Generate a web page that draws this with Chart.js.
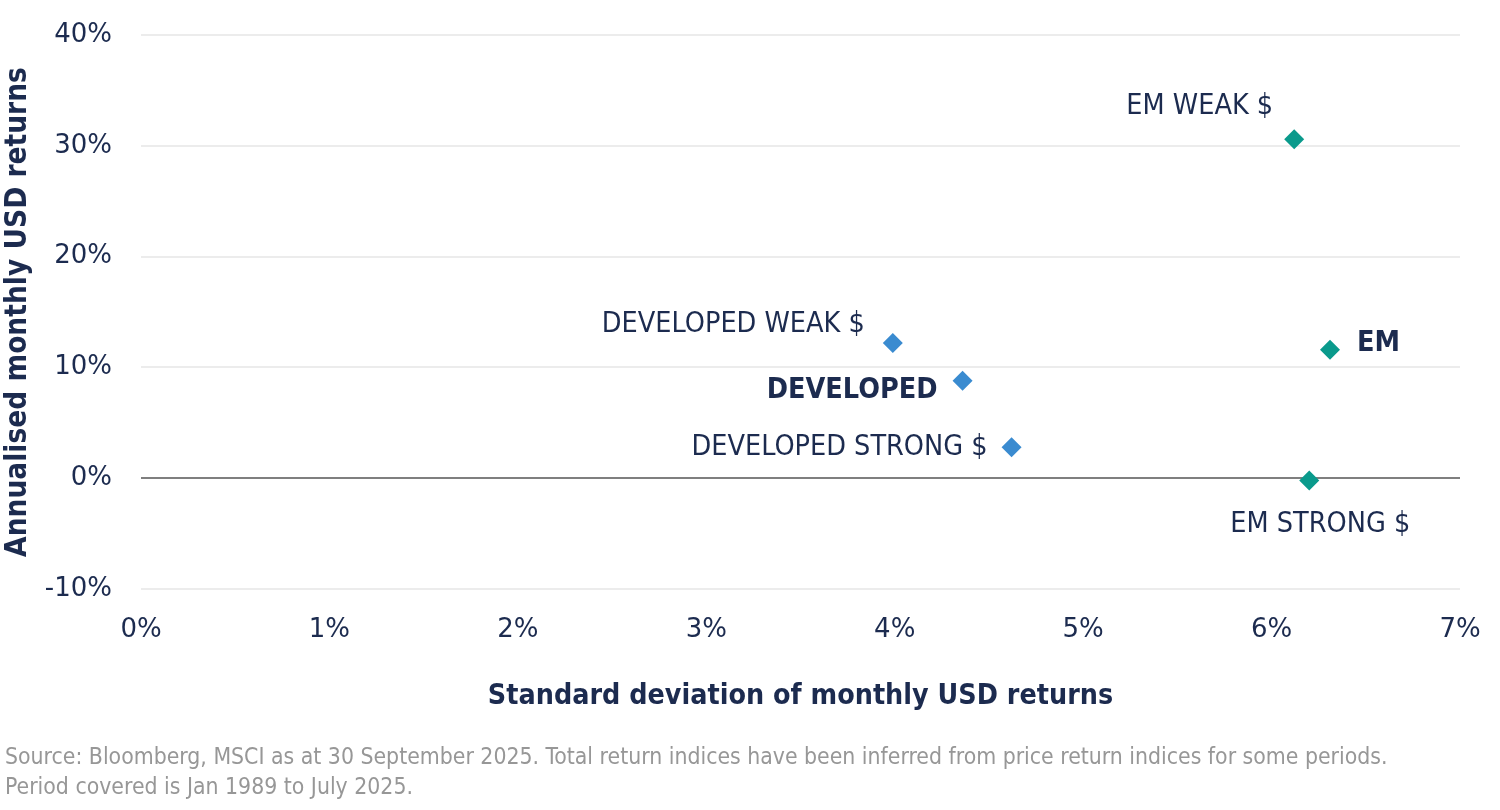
<!DOCTYPE html>
<html lang="en">
<head>
    <meta charset="UTF-8">
    <title>Risk and return by dollar regime</title>
    <script src="https://cdn.jsdelivr.net/npm/chart.js"></script>
    <style>
        html, body { margin: 0; padding: 0; background: #ffffff; }
        .wrap { position: relative; width: 1500px; height: 810px; }
        .source {
            position: absolute; left: 5px; top: 741px;
            font-family: "DejaVu Sans Condensed", "DejaVu Sans", sans-serif;
            font-size: 22.8px; line-height: 30px; color: #979797;
        }
    </style>
</head>
<body>
    <div class="wrap">
        <canvas id="scatter" width="1500" height="810"></canvas>
        <div class="source">
            Source: Bloomberg, MSCI as at 30 September 2025. Total return indices have been inferred from price return indices for some periods.<br>
            Period covered is Jan 1989 to July 2025.
        </div>
    </div>

    <script>
        // data (x = std dev %, y = annualised return %)
        const devNames = ['DEVELOPED WEAK $', 'DEVELOPED', 'DEVELOPED STRONG $'];
        const devRisk = [3.99, 4.36, 4.62];
        const devReturn = [12.2, 8.8, 2.8];

        const emNames = ['EM WEAK $', 'EM', 'EM STRONG $'];
        const emRisk = [6.12, 6.31, 6.20];
        const emReturn = [30.6, 11.6, -0.2];

        const xTicks = [0, 1, 2, 3, 4, 5, 6, 7];
        const yTicks = [-10, 0, 10, 20, 30, 40];

        // label placement next to each point (pixels)
        const devLabelPos = [
            { dx: -28, dy: -18, align: 'right' },
            { dx: -25, dy: 10, align: 'right', bold: true },
            { dx: -24, dy: 0, align: 'right' }
        ];
        const emLabelPos = [
            { dx: -21, dy: -33, align: 'right' },
            { dx: 27, dy: -6, align: 'left', bold: true },
            { dx: 11, dy: 44, align: 'center' }
        ];

        const navy = '#1c2b4f';
        const toPoints = (xs, ys) => xs.map((x, i) => ({ x: x, y: ys[i] }));

        // draw the text labels beside the diamonds
        const pointLabels = {
            id: 'pointLabels',
            afterDatasetsDraw(chart) {
                const ctx = chart.ctx;
                chart.data.datasets.forEach((ds, di) => {
                    const meta = chart.getDatasetMeta(di);
                    meta.data.forEach((pt, i) => {
                        const p = ds.labelPos[i];
                        ctx.save();
                        ctx.font = (p.bold ? 'bold ' : '') + '28.5px "DejaVu Sans Condensed", "DejaVu Sans", sans-serif';
                        ctx.fillStyle = navy;
                        ctx.textAlign = p.align;
                        ctx.textBaseline = 'middle';
                        ctx.fillText(ds.names[i], pt.x + p.dx, pt.y + p.dy);
                        ctx.restore();
                    });
                });
            }
        };

        const tickFont = { family: '"DejaVu Sans", sans-serif', size: 26 };
        const condensed = '"DejaVu Sans Condensed", "DejaVu Sans", sans-serif';

        new Chart(document.getElementById('scatter'), {
            type: 'scatter',
            data: {
                datasets: [
                    {
                        label: 'Developed',
                        data: toPoints(devRisk, devReturn),
                        names: devNames,
                        labelPos: devLabelPos,
                        backgroundColor: '#3a8bd0',
                        borderWidth: 0,
                        pointStyle: 'rectRot',
                        pointRadius: 10,
                        pointHoverRadius: 10
                    },
                    {
                        label: 'EM',
                        data: toPoints(emRisk, emReturn),
                        names: emNames,
                        labelPos: emLabelPos,
                        backgroundColor: '#0a9a8c',
                        borderWidth: 0,
                        pointStyle: 'rectRot',
                        pointRadius: 10,
                        pointHoverRadius: 10
                    }
                ]
            },
            plugins: [pointLabels],
            options: {
                responsive: false,
                animation: false,
                events: [],
                layout: { padding: { top: 35, right: 40, bottom: 80, left: 0 } },
                plugins: {
                    legend: { display: false },
                    tooltip: { enabled: false }
                },
                scales: {
                    x: {
                        type: 'linear',
                        min: xTicks[0],
                        max: xTicks[xTicks.length - 1],
                        afterBuildTicks: s => { s.ticks = xTicks.map(v => ({ value: v })); },
                        afterFit: s => { s.height = 141; s.paddingLeft = 0; s.paddingRight = 0; },
                        grid: { display: false, drawTicks: false },
                        border: { display: false },
                        ticks: {
                            padding: 26,
                            color: navy,
                            font: tickFont,
                            maxRotation: 0,
                            callback: v => v + '%'
                        },
                        title: {
                            display: true,
                            text: 'Standard deviation of monthly USD returns',
                            color: navy,
                            font: { family: condensed, size: 28.4, weight: 'bold' },
                            padding: { top: 0, bottom: 16 }
                        }
                    },
                    y: {
                        type: 'linear',
                        min: yTicks[0],
                        max: yTicks[yTicks.length - 1],
                        afterBuildTicks: s => { s.ticks = yTicks.map(v => ({ value: v })); },
                        afterFit: s => { s.width = 141; s.paddingTop = 0; s.paddingBottom = 0; },
                        grid: {
                            drawTicks: false,
                            color: c => c.tick && c.tick.value === 0 ? '#7f7f7f' : '#ececec',
                            lineWidth: 2
                        },
                        border: { display: false },
                        ticks: {
                            padding: 29,
                            color: navy,
                            font: tickFont,
                            callback: v => v + '%'
                        },
                        title: {
                            display: true,
                            text: 'Annualised monthly USD returns',
                            color: navy,
                            font: { family: condensed, size: 29.5, weight: 'bold' },
                            padding: { top: 1, bottom: 0 }
                        }
                    }
                }
            }
        });
    </script>
</body>
</html>
